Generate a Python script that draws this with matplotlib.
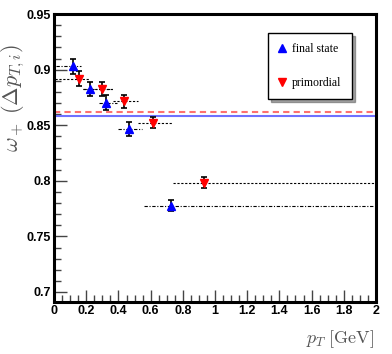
import numpy as np
import matplotlib.pyplot as plt
from matplotlib.ticker import MultipleLocator

plt.rcParams['mathtext.fontset'] = 'cm'

# final state (blue, up triangles)
fs_x = [0.118, 0.222, 0.325, 0.464, 0.725]
fs_y = [0.903, 0.8826, 0.8705, 0.8466, 0.7775]
fs_err = [0.007, 0.006, 0.007, 0.006, 0.005]
fs_lo = [0.01, 0.18, 0.28, 0.40, 0.557]
fs_hi = [0.17, 0.36, 0.39, 0.545, 2.0]

# primordial (red, down triangles)
pr_x = [0.153, 0.298, 0.435, 0.615, 0.932]
pr_y = [0.8919, 0.8826, 0.8715, 0.8525, 0.7985]
pr_err = [0.007, 0.006, 0.006, 0.005, 0.005]
pr_lo = [0.005, 0.18, 0.365, 0.52, 0.739]
pr_hi = [0.22, 0.365, 0.52, 0.73, 2.0]

fs_avg = 0.858
pr_avg = 0.8624

fig = plt.figure(figsize=(3.92, 3.54), dpi=100)
ax = fig.add_axes([0.138, 0.147, 0.821, 0.813])

ax.axhline(pr_avg, color='#ff7070', lw=1.5, ls=(0, (3, 2)))
ax.axhline(fs_avg, color='#7070ff', lw=1.5)

ax.hlines(fs_y, fs_lo, fs_hi, colors='k', lw=0.8, linestyles=[(0, (3, 1.5, 1, 1.5))])
ax.hlines(pr_y, pr_lo, pr_hi, colors='k', lw=0.8, linestyles=[(0, (2, 1.5))])

ax.errorbar(fs_x, fs_y, yerr=fs_err, fmt='none', ecolor='k', elinewidth=1.2, capsize=2.5, capthick=1.2)
ax.errorbar(pr_x, pr_y, yerr=pr_err, fmt='none', ecolor='k', elinewidth=1.2, capsize=2.5, capthick=1.2)
ax.plot(fs_x, fs_y, '^', color='#0000ff', ms=5.5, ls='none', label='final state')
ax.plot(pr_x, pr_y, 'v', color='#ff0000', ms=5.5, ls='none', label='primordial')

ax.set_xlim(0, 2)
ax.set_ylim(0.691, 0.95)
ax.xaxis.set_major_locator(MultipleLocator(0.2))
ax.xaxis.set_minor_locator(MultipleLocator(0.05))
ax.yaxis.set_major_locator(MultipleLocator(0.05))
ax.yaxis.set_minor_locator(MultipleLocator(0.01))
ax.tick_params(which='both', direction='in', top=False, right=False, width=1, color='#444444')
ax.tick_params(which='major', length=9, pad=2)
ax.tick_params(which='minor', length=5)
ax.set_xticks(np.arange(0, 2.01, 0.2))
ax.set_xticklabels(['0', '0.2', '0.4', '0.6', '0.8', '1', '1.2', '1.4', '1.6', '1.8', '2'])
ax.set_yticks([0.7, 0.75, 0.8, 0.85, 0.9, 0.95])
ax.set_yticklabels(['0.7', '0.75', '0.8', '0.85', '0.9', '0.95'])
for lab in ax.get_xticklabels() + ax.get_yticklabels():
    lab.set_fontfamily('Liberation Sans')
    lab.set_fontweight('bold')
    lab.set_fontsize(9)
for s in ax.spines.values():
    s.set_linewidth(2.2)

ax.set_ylabel(r'$\omega_+\;(\Delta p_{T,i})$', fontsize=16, color='#555555')
ax.yaxis.set_label_coords(-0.085, 0.71)
ax.set_xlabel(r'$p_T\;\mathrm{[GeV]}$', fontsize=13, color='#555555')
ax.xaxis.set_label_coords(0.89, -0.09)

leg = ax.legend(loc='upper left', bbox_to_anchor=(0.665, 0.935), frameon=True, fancybox=False,
                shadow=True, edgecolor='k', labelspacing=1.8, handlelength=0.6,
                handletextpad=0.5, borderpad=0.9, borderaxespad=0,
                prop={'family': 'Liberation Serif', 'size': 8.5})
leg.get_frame().set_linewidth(1)

fig.savefig('out.png', dpi=100)
